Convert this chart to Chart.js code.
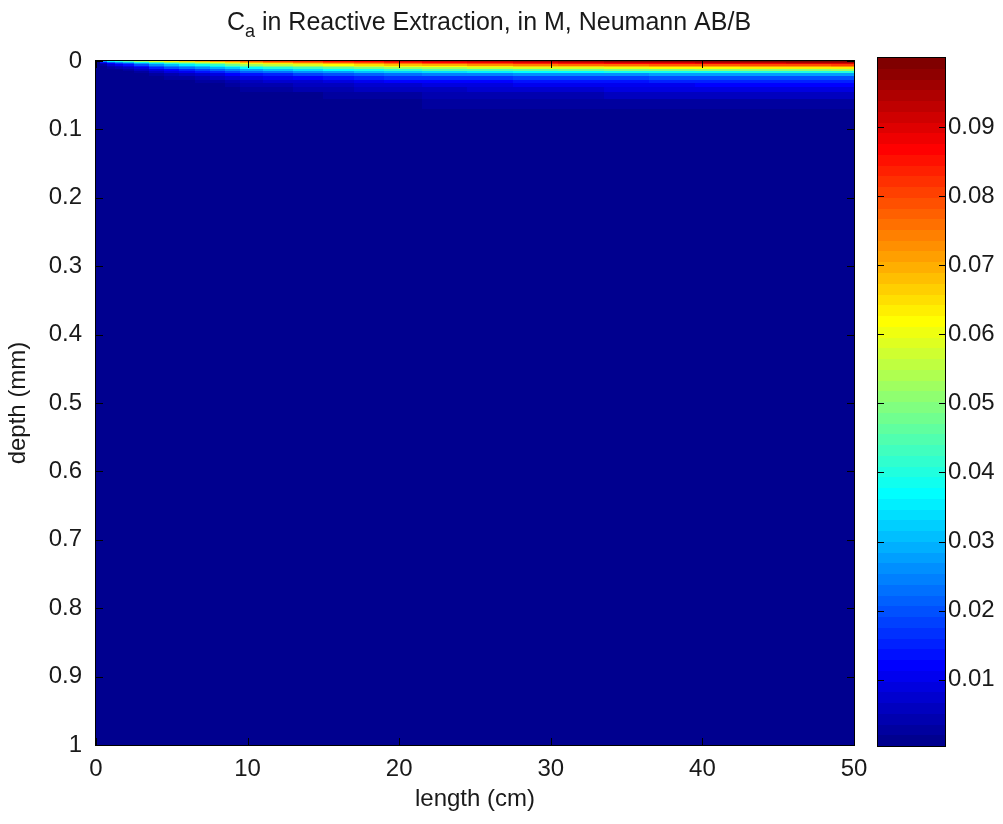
<!DOCTYPE html>
<html>
<head>
<meta charset="utf-8">
<title>Reactive Extraction</title>
<script src="https://cdn.jsdelivr.net/npm/chart.js@4.4.1/dist/chart.umd.min.js"></script>
<style>
    html, body { margin: 0; padding: 0; background: #ffffff; }
    #wrap { position: relative; width: 1003px; height: 824px; }
    #field { position: absolute; left: 0; top: 0; }
    #colorbar { position: absolute; left: 860px; top: 0; }
</style>
</head>
<body>
<div id="wrap">
    <canvas id="field" width="880" height="824"></canvas>
    <canvas id="colorbar" width="143" height="824"></canvas>
</div>
<script>
// grid of the solution: length along the channel (cm) and depth into the film (mm)
const lengths = [0, 0.5, 1, 1.5, 2, 3, 4, 5, 6, 7, 8, 9, 10, 12, 14, 16, 18, 20, 23, 26, 29, 32, 35, 38, 41, 44, 47, 50]
const depths = [0, 0.002, 0.004, 0.006, 0.008, 0.010, 0.013, 0.016, 0.020, 0.025, 0.030, 0.035, 0.040, 0.050, 0.060, 0.080, 1.0]

// C_a (M), one depth profile per length
const profiles = [
    [0.0030, 0.0004, 0.0004, 0.0004, 0.0004, 0.0004, 0.0004, 0.0004, 0.0004, 0.0004, 0.0004, 0.0004, 0.0004, 0.0004, 0.0004, 0.0004, 0.0004],
    [0.0260, 0.0130, 0.0062, 0.0030, 0.0015, 0.0008, 0.0004, 0.0004, 0.0004, 0.0004, 0.0004, 0.0004, 0.0004, 0.0004, 0.0004, 0.0004, 0.0004],
    [0.0350, 0.0210, 0.0125, 0.0072, 0.0041, 0.0024, 0.0010, 0.0005, 0.0004, 0.0004, 0.0004, 0.0004, 0.0004, 0.0004, 0.0004, 0.0004, 0.0004],
    [0.0400, 0.0260, 0.0165, 0.0102, 0.0063, 0.0039, 0.0018, 0.0009, 0.0004, 0.0004, 0.0004, 0.0004, 0.0004, 0.0004, 0.0004, 0.0004, 0.0004],
    [0.0450, 0.0305, 0.0205, 0.0135, 0.0088, 0.0057, 0.0029, 0.0015, 0.0006, 0.0004, 0.0004, 0.0004, 0.0004, 0.0004, 0.0004, 0.0004, 0.0004],
    [0.0520, 0.0380, 0.0275, 0.0195, 0.0138, 0.0097, 0.0056, 0.0032, 0.0015, 0.0006, 0.0004, 0.0004, 0.0004, 0.0004, 0.0004, 0.0004, 0.0004],
    [0.0580, 0.0450, 0.0345, 0.0262, 0.0198, 0.0148, 0.0094, 0.0059, 0.0030, 0.0013, 0.0006, 0.0004, 0.0004, 0.0004, 0.0004, 0.0004, 0.0004],
    [0.0630, 0.0505, 0.0400, 0.0315, 0.0246, 0.0191, 0.0128, 0.0085, 0.0047, 0.0022, 0.0011, 0.0006, 0.0004, 0.0004, 0.0004, 0.0004, 0.0004],
    [0.0660, 0.0540, 0.0438, 0.0352, 0.0281, 0.0223, 0.0155, 0.0107, 0.0062, 0.0031, 0.0016, 0.0009, 0.0005, 0.0004, 0.0004, 0.0004, 0.0004],
    [0.0690, 0.0575, 0.0473, 0.0387, 0.0315, 0.0255, 0.0182, 0.0129, 0.0078, 0.0041, 0.0022, 0.0013, 0.0008, 0.0004, 0.0004, 0.0004, 0.0004],
    [0.0720, 0.0610, 0.0510, 0.0423, 0.0350, 0.0288, 0.0211, 0.0153, 0.0096, 0.0053, 0.0030, 0.0018, 0.0011, 0.0005, 0.0004, 0.0004, 0.0004],
    [0.0745, 0.0655, 0.0560, 0.0472, 0.0395, 0.0329, 0.0246, 0.0182, 0.0118, 0.0071, 0.0044, 0.0028, 0.0018, 0.0008, 0.0005, 0.0004, 0.0004],
    [0.0770, 0.0700, 0.0610, 0.0520, 0.0440, 0.0370, 0.0280, 0.0210, 0.0140, 0.0088, 0.0058, 0.0038, 0.0025, 0.0011, 0.0006, 0.0004, 0.0004],
    [0.0800, 0.0730, 0.0641, 0.0552, 0.0472, 0.0401, 0.0308, 0.0234, 0.0159, 0.0102, 0.0069, 0.0046, 0.0032, 0.0015, 0.0008, 0.0004, 0.0004],
    [0.0825, 0.0760, 0.0672, 0.0584, 0.0504, 0.0432, 0.0336, 0.0258, 0.0178, 0.0117, 0.0080, 0.0055, 0.0038, 0.0019, 0.0010, 0.0004, 0.0004],
    [0.0850, 0.0784, 0.0703, 0.0616, 0.0536, 0.0463, 0.0364, 0.0282, 0.0197, 0.0131, 0.0091, 0.0063, 0.0045, 0.0023, 0.0012, 0.0004, 0.0004],
    [0.0875, 0.0812, 0.0734, 0.0648, 0.0568, 0.0494, 0.0392, 0.0306, 0.0216, 0.0146, 0.0102, 0.0072, 0.0051, 0.0027, 0.0015, 0.0005, 0.0004],
    [0.0900, 0.0840, 0.0765, 0.0680, 0.0600, 0.0525, 0.0420, 0.0330, 0.0235, 0.0160, 0.0113, 0.0080, 0.0058, 0.0031, 0.0017, 0.0005, 0.0004],
    [0.0920, 0.0864, 0.0792, 0.0704, 0.0624, 0.0548, 0.0440, 0.0344, 0.0244, 0.0168, 0.0121, 0.0088, 0.0065, 0.0037, 0.0021, 0.0006, 0.0004],
    [0.0934, 0.0882, 0.0812, 0.0722, 0.0642, 0.0565, 0.0455, 0.0355, 0.0251, 0.0174, 0.0128, 0.0094, 0.0071, 0.0041, 0.0023, 0.0007, 0.0004],
    [0.0947, 0.0898, 0.0830, 0.0738, 0.0658, 0.0580, 0.0468, 0.0364, 0.0257, 0.0179, 0.0133, 0.0099, 0.0076, 0.0045, 0.0026, 0.0007, 0.0004],
    [0.0959, 0.0912, 0.0846, 0.0752, 0.0672, 0.0594, 0.0480, 0.0372, 0.0262, 0.0184, 0.0138, 0.0104, 0.0080, 0.0048, 0.0028, 0.0008, 0.0004],
    [0.0969, 0.0924, 0.0860, 0.0764, 0.0684, 0.0606, 0.0490, 0.0379, 0.0267, 0.0188, 0.0142, 0.0108, 0.0084, 0.0051, 0.0030, 0.0009, 0.0004],
    [0.0976, 0.0934, 0.0870, 0.0774, 0.0694, 0.0615, 0.0498, 0.0385, 0.0270, 0.0191, 0.0146, 0.0111, 0.0087, 0.0054, 0.0031, 0.0009, 0.0004],
    [0.0983, 0.0942, 0.0880, 0.0782, 0.0702, 0.0623, 0.0505, 0.0390, 0.0273, 0.0194, 0.0149, 0.0114, 0.0089, 0.0056, 0.0032, 0.0009, 0.0004],
    [0.0989, 0.0949, 0.0888, 0.0789, 0.0709, 0.0630, 0.0511, 0.0394, 0.0276, 0.0196, 0.0151, 0.0116, 0.0092, 0.0057, 0.0033, 0.0010, 0.0004],
    [0.0994, 0.0955, 0.0895, 0.0795, 0.0715, 0.0635, 0.0516, 0.0397, 0.0278, 0.0198, 0.0153, 0.0118, 0.0093, 0.0059, 0.0034, 0.0010, 0.0004],
    [0.0998, 0.0960, 0.0900, 0.0800, 0.0720, 0.0640, 0.0520, 0.0400, 0.0280, 0.0200, 0.0155, 0.0120, 0.0095, 0.0060, 0.0035, 0.0010, 0.0004]
]

const lengthTicks = [0, 10, 20, 30, 40, 50]
const depthTicks = [0, 0.1, 0.2, 0.3, 0.4, 0.5, 0.6, 0.7, 0.8, 0.9, 1]
const colorTicks = [0.01, 0.02, 0.03, 0.04, 0.05, 0.06, 0.07, 0.08, 0.09]
const cMin = 0.0004
const cMax = 0.1

const FONT = "'Liberation Sans', Arial, sans-serif"
const TEXT = '#1a1a1a'
const LEVELS = 64

// jet colormap, 64 steps like matlab
function jet(t) {
    const c = v => Math.round(255 * Math.min(1, Math.max(0, v)))
    return `rgb(${c(1.5 - Math.abs(4 * t - 3))},${c(1.5 - Math.abs(4 * t - 2))},${c(1.5 - Math.abs(4 * t - 1))})`
}

function levelColor(value) {
    let i = Math.floor((value - cMin) / (cMax - cMin) * LEVELS)
    i = Math.min(LEVELS - 1, Math.max(0, i))
    return jet((i + 1) / LEVELS)
}

// cell boundaries halfway between grid points
function cellEdges(arr) {
    const e = [arr[0]]
    for (let i = 1; i < arr.length; i++) e.push((arr[i - 1] + arr[i]) / 2)
    e.push(arr[arr.length - 1])
    return e
}

function drawInnerTicks(ctx, area, scale, len) {
    ctx.save()
    ctx.strokeStyle = '#000'
    ctx.lineWidth = 1
    ctx.beginPath()
    scale.ticks.forEach(t => {
        const p = Math.round(scale.getPixelForValue(t.value)) + 0.5
        if (scale.isHorizontal()) {
            ctx.moveTo(p, area.bottom); ctx.lineTo(p, area.bottom - len)
            ctx.moveTo(p, area.top); ctx.lineTo(p, area.top + len)
        } else {
            ctx.moveTo(area.left, p); ctx.lineTo(area.left + len, p)
            ctx.moveTo(area.right, p); ctx.lineTo(area.right - len, p)
        }
    })
    ctx.stroke()
    ctx.restore()
}

function drawBox(ctx, area) {
    ctx.save()
    ctx.strokeStyle = '#000'
    ctx.lineWidth = 1
    ctx.strokeRect(area.left - 0.5, area.top - 0.5, area.right - area.left + 1, area.bottom - area.top + 1)
    ctx.restore()
}

// keep the plot box fixed, labels may hang over its ends
function noLabelPadding(s) {
    s.paddingLeft = 0
    s.paddingRight = 0
    s.paddingTop = 0
    s.paddingBottom = 0
}

const heatmapPlugin = {
    id: 'heatmap',
    beforeDatasetsDraw(chart) {
        const { ctx, scales: { x, y } } = chart
        const xe = cellEdges(lengths)
        const ye = cellEdges(depths)
        for (let j = 0; j < lengths.length; j++) {
            const x0 = Math.round(x.getPixelForValue(xe[j]))
            const x1 = Math.round(x.getPixelForValue(xe[j + 1]))
            for (let i = 0; i < depths.length; i++) {
                const y0 = Math.round(y.getPixelForValue(ye[i]))
                const y1 = Math.round(y.getPixelForValue(ye[i + 1]))
                ctx.fillStyle = levelColor(profiles[j][i])
                ctx.fillRect(x0, y0, x1 - x0, y1 - y0)
            }
        }
    },
    afterDraw(chart) {
        const { ctx, chartArea, scales: { x, y } } = chart
        drawBox(ctx, chartArea)
        drawInnerTicks(ctx, chartArea, x, 7)
        drawInnerTicks(ctx, chartArea, y, 7)

        // title with subscript a
        ctx.save()
        ctx.fillStyle = TEXT
        ctx.textBaseline = 'alphabetic'
        ctx.font = `25px ${FONT}`
        const head = 'C'
        const rest = ' in Reactive Extraction, in M, Neumann AB/B'
        const wHead = ctx.measureText(head).width
        const wRest = ctx.measureText(rest).width
        ctx.font = `18px ${FONT}`
        const wSub = ctx.measureText('a').width
        const total = wHead + wSub + wRest
        const sx = (chartArea.left + chartArea.right) / 2 - total / 2 + 14
        const base = 30
        ctx.font = `25px ${FONT}`
        ctx.fillText(head, sx, base)
        ctx.font = `18px ${FONT}`
        ctx.fillText('a', sx + wHead, base + 7)
        ctx.font = `25px ${FONT}`
        ctx.fillText(rest, sx + wHead + wSub, base)
        ctx.restore()
    }
}

new Chart(document.getElementById('field').getContext('2d'), {
    type: 'scatter',
    data: { datasets: [] },
    options: {
        responsive: false,
        animation: false,
        devicePixelRatio: 1,
        layout: { padding: { top: 61, right: 26, left: 0, bottom: 0 } },
        plugins: { legend: { display: false }, tooltip: { enabled: false } },
        scales: {
            x: {
                type: 'linear',
                min: 0,
                max: 50,
                afterBuildTicks: s => { s.ticks = lengthTicks.map(v => ({ value: v })) },
                afterFit: s => { s.height = 79; noLabelPadding(s) },
                grid: { display: false, drawTicks: false },
                border: { display: false },
                ticks: { color: TEXT, padding: 10, maxRotation: 0, font: { family: FONT, size: 24 }, callback: v => String(v) },
                title: { display: true, text: 'length (cm)', color: TEXT, font: { family: FONT, size: 24 }, padding: { bottom: 10 } }
            },
            y: {
                type: 'linear',
                min: 0,
                max: 1,
                reverse: true,
                afterBuildTicks: s => { s.ticks = depthTicks.map(v => ({ value: v })) },
                afterFit: s => { s.width = 96; noLabelPadding(s) },
                grid: { display: false, drawTicks: false },
                border: { display: false },
                ticks: { color: TEXT, padding: 14, font: { family: FONT, size: 24 }, callback: v => String(v) },
                title: { display: true, text: 'depth (mm)', color: TEXT, font: { family: FONT, size: 24 }, padding: { top: 4 } }
            }
        }
    },
    plugins: [heatmapPlugin]
})

// colorbar: 64 bands on its own value axis
const colorbarPlugin = {
    id: 'colorbarBands',
    beforeDatasetsDraw(chart) {
        const { ctx, chartArea, scales: { y } } = chart
        for (let i = 0; i < LEVELS; i++) {
            const v0 = cMin + (cMax - cMin) * i / LEVELS
            const v1 = cMin + (cMax - cMin) * (i + 1) / LEVELS
            const y0 = Math.round(y.getPixelForValue(v0))
            const y1 = Math.round(y.getPixelForValue(v1))
            ctx.fillStyle = jet((i + 1) / LEVELS)
            ctx.fillRect(chartArea.left, y1, chartArea.right - chartArea.left, y0 - y1)
        }
    },
    afterDraw(chart) {
        const { ctx, chartArea, scales: { y } } = chart
        drawBox(ctx, chartArea)
        drawInnerTicks(ctx, chartArea, y, 6)
    }
}

new Chart(document.getElementById('colorbar').getContext('2d'), {
    type: 'scatter',
    data: { datasets: [] },
    options: {
        responsive: false,
        animation: false,
        devicePixelRatio: 1,
        layout: { padding: { top: 58, right: 0, left: 18, bottom: 78 } },
        plugins: { legend: { display: false }, tooltip: { enabled: false } },
        scales: {
            x: { type: 'linear', display: false },
            y: {
                type: 'linear',
                position: 'right',
                min: cMin,
                max: cMax,
                afterBuildTicks: s => { s.ticks = colorTicks.map(v => ({ value: v })) },
                afterFit: s => { s.width = 58; noLabelPadding(s) },
                grid: { display: false, drawTicks: false },
                border: { display: false },
                ticks: { color: TEXT, padding: 3, font: { family: FONT, size: 24 }, callback: v => v.toFixed(2) }
            }
        }
    },
    plugins: [colorbarPlugin]
})
</script>
</body>
</html>
